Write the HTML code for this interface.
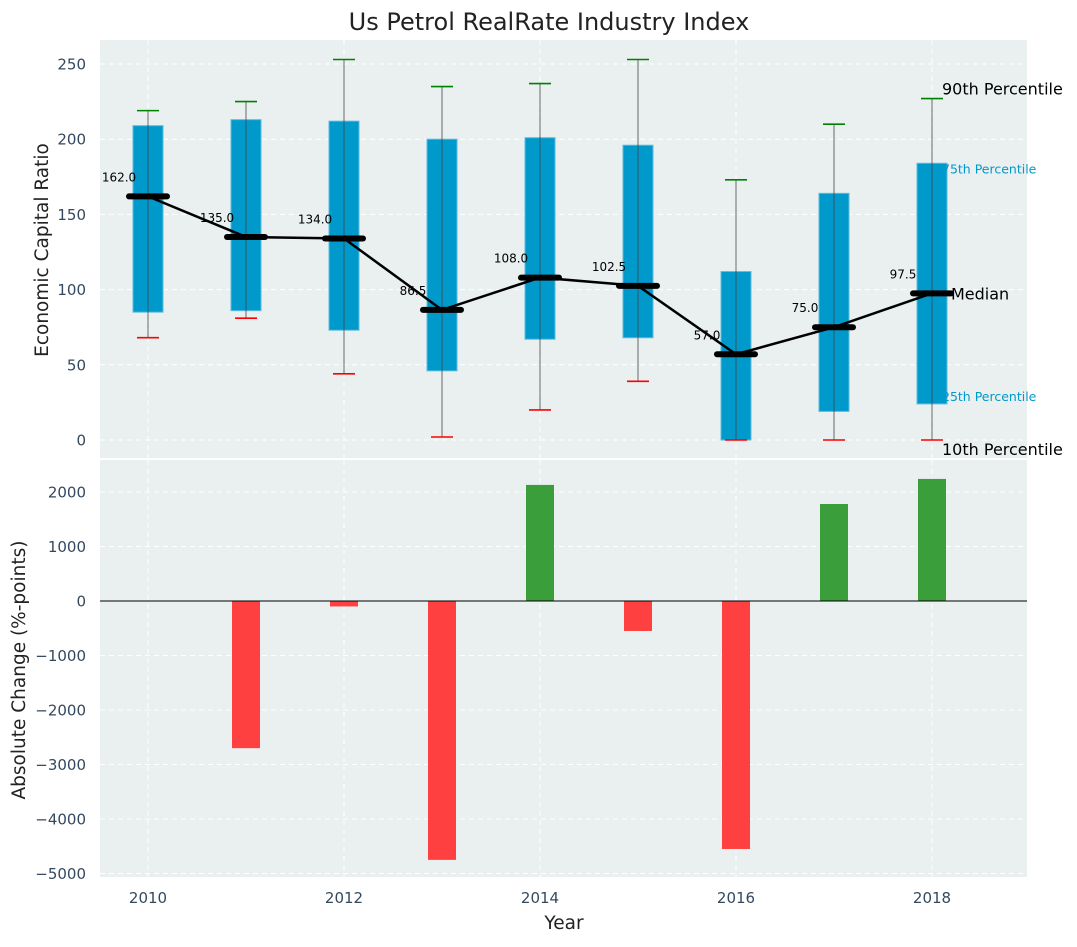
<!DOCTYPE html>
<html><head><meta charset="utf-8"><style>
body{margin:0;background:#fff;}
svg text{font-family:"DejaVu Sans","Liberation Sans",sans-serif;}
</style></head><body>
<svg id="c" width="1077" height="942" xmlns="http://www.w3.org/2000/svg"></svg>
<script>
const years=[2010,2011,2012,2013,2014,2015,2016,2017,2018];
const q25=[85,86,73,46,67,68,0,19,24];
const q75=[209,213,212,200,201,196,112,164,184];
const p10=[68,81,44,2,20,39,0,0,0];
const p90=[219,225,253,235,237,253,173,210,227];
const medians=[162,135,134,86.5,108,102.5,57,75,97.5];
const changes=[0,-2700,-100,-4750,2130,-550,-4550,1780,2240];
const topTicks=[0,50,100,150,200,250];
const botTicks=[-5000,-4000,-3000,-2000,-1000,0,1000,2000];
const xTicks=[2010,2012,2014,2016,2018];

const NS="http://www.w3.org/2000/svg";
const svg=document.getElementById('c');
function el(t,a,p){const e=document.createElementNS(NS,t);for(const k in a)e.setAttribute(k,a[k]);(p||svg).appendChild(e);return e;}
const X=v=>148+(v-2010)*98;
const YT=v=>440-v*1.504;
const YB=v=>601-v*0.0545;
const L=100,R=1027;

let bg=el('rect',{x:L,y:40,width:R-L,height:418,fill:'#eaeff0'});

let bg2=el('rect',{x:L,y:460,width:R-L,height:417,fill:'#eaeff0'});


const grid=el('g',{stroke:'#fff','stroke-dasharray':'5,4','stroke-width':1});

topTicks.forEach(t=>el('line',{x1:L,x2:R,y1:YT(t),y2:YT(t)},grid));
botTicks.forEach(t=>el('line',{x1:L,x2:R,y1:YB(t),y2:YB(t)},grid));
xTicks.forEach(t=>{el('line',{x1:X(t),x2:X(t),y1:40,y2:458},grid);el('line',{x1:X(t),x2:X(t),y1:460,y2:877},grid);});

topTicks.forEach(t=>{const e=el('text',{x:86,y:YT(t)+5.5,'text-anchor':'end','font-size':15,fill:'#34495e'});e.textContent=t;
});
botTicks.forEach(t=>{const e=el('text',{x:86,y:YB(t)+5.5,'text-anchor':'end','font-size':15,fill:'#34495e'});e.textContent=t<0?'\u2212'+(-t):t;
});
xTicks.forEach(t=>{const e=el('text',{x:X(t),y:903,'text-anchor':'middle','font-size':15,fill:'#34495e'});e.textContent=t;
});

years.forEach((y,i)=>{
  const g=el('g',{});
  
  el('rect',{x:X(y)-15,y:YT(q75[i]),width:30,height:YT(q25[i])-YT(q75[i]),fill:'#0099cc',stroke:'#5bbcdc','stroke-width':1},g);
  el('line',{x1:X(y),x2:X(y),y1:YT(p90[i]),y2:YT(p10[i]),stroke:'#444','stroke-opacity':0.65,'stroke-width':1.2},g);
  el('line',{x1:X(y)-11,x2:X(y)+11,y1:YT(p90[i]),y2:YT(p90[i]),stroke:'green','stroke-width':1.6},g);
  el('line',{x1:X(y)-11,x2:X(y)+11,y1:YT(p10[i]),y2:YT(p10[i]),stroke:'red','stroke-width':1.6},g);
});
const pl=el('polyline',{points:years.map((y,i)=>X(y)+','+YT(medians[i])).join(' '),fill:'none',stroke:'#000','stroke-width':2.5});

years.forEach((y,i)=>{
  const m=el('line',{x1:X(y)-19,x2:X(y)+19,y1:YT(medians[i]),y2:YT(medians[i]),stroke:'#000','stroke-width':6,'stroke-linecap':'round'});
  
  const t=el('text',{x:X(y)-29,y:YT(medians[i])-15,'text-anchor':'middle','font-size':12,fill:'#000'});
  t.textContent=medians[i].toFixed(1);
  
});
const last=years.length-1;
[['90th Percentile',p90[last],16,'#000',942,-4,'label-90th'],
 ['75th Percentile',q75[last],12.5,'#0099cc',942,10,'label-75th'],
 ['Median',medians[last],16,'#000',951,6,'label-median'],
 ['25th Percentile',q25[last],12.5,'#0099cc',942,-3,'label-25th'],
 ['10th Percentile',p10[last],16,'#000',942,15,'label-10th']].forEach(a=>{
  const t=el('text',{x:a[4],y:YT(a[1])+a[5],'font-size':a[2],fill:a[3]});
  t.textContent=a[0];
});
years.forEach((y,i)=>{
  const v=changes[i];
  const b=el('rect',{x:X(y)-14,y:Math.min(YB(v),YB(0)),width:28,height:Math.abs(YB(v)-YB(0)),fill:v>=0?'#3a9e3a':'#ff4040'});
  
});
const z=el('line',{x1:L,x2:R,y1:YB(0),y2:YB(0),stroke:'#000','stroke-width':1});


let t=el('text',{x:549,y:30,'text-anchor':'middle','font-size':24,fill:'#222'});t.textContent='Us Petrol RealRate Industry Index';

t=el('text',{x:564,y:929,'text-anchor':'middle','font-size':18.5,fill:'#222'});t.textContent='Year';

t=el('text',{x:0,y:0,'text-anchor':'middle','font-size':18.5,fill:'#222',transform:'translate(48,250) rotate(-90)'});t.textContent='Economic Capital Ratio';

t=el('text',{x:0,y:0,'text-anchor':'middle','font-size':18.5,fill:'#222',transform:'translate(25,670) rotate(-90)'});t.textContent='Absolute Change (%-points)';

</script>
</body></html>
